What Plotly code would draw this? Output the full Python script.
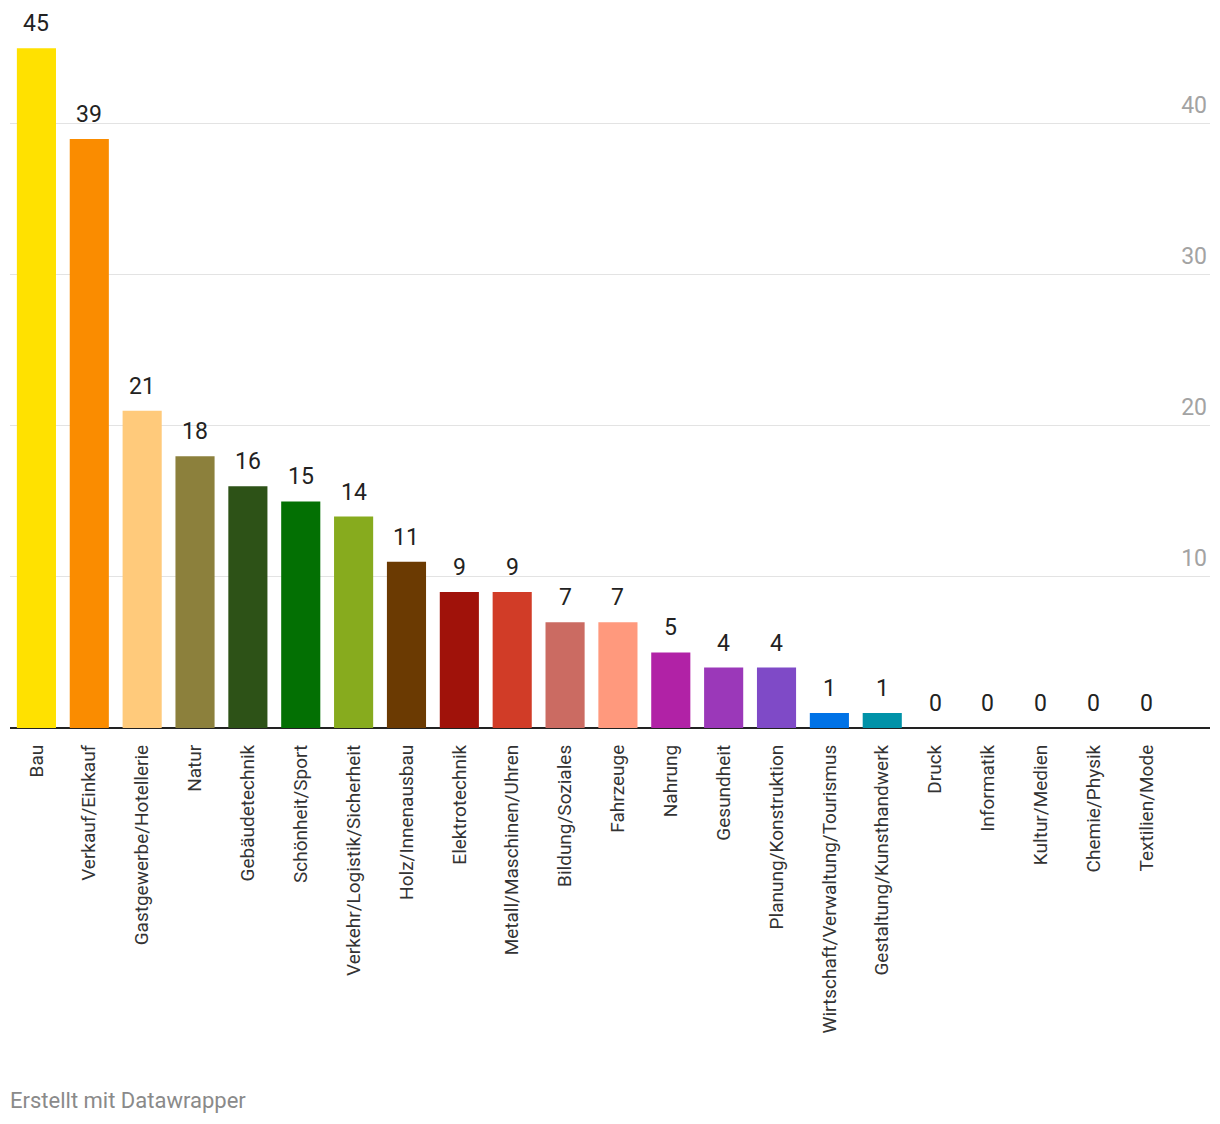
import plotly.graph_objects as go

categories = ["Bau", "Verkauf/Einkauf", "Gastgewerbe/Hotellerie", "Natur", "Gebäudetechnik",
              "Schönheit/Sport", "Verkehr/Logistik/Sicherheit", "Holz/Innenausbau", "Elektrotechnik",
              "Metall/Maschinen/Uhren", "Bildung/Soziales", "Fahrzeuge", "Nahrung", "Gesundheit",
              "Planung/Konstruktion", "Wirtschaft/Verwaltung/Tourismus", "Gestaltung/Kunsthandwerk",
              "Druck", "Informatik", "Kultur/Medien", "Chemie/Physik", "Textilien/Mode"]
values = [45, 39, 21, 18, 16, 15, 14, 11, 9, 9, 7, 7, 5, 4, 4, 1, 1, 0, 0, 0, 0, 0]
colors = ["#FFE100", "#FA8C00", "#FFCA7B", "#8C803C", "#2D5217", "#037003", "#87AB1E",
          "#6B3A02", "#A0120A", "#D13C27", "#CB6B62", "#FF997D", "#B122A6", "#9B38B9",
          "#7F4AC7", "#0072E6", "#0092A8", "#cccccc", "#cccccc", "#cccccc", "#cccccc", "#cccccc"]
y_ticks = [10, 20, 30, 40]

FONT = "Roboto"

fig = go.Figure()
fig.add_trace(go.Bar(
    x=categories, y=values, marker=dict(color=colors, line=dict(width=0)),
    hoverinfo="x+y",
))

annotations = []
for c, v in zip(categories, values):
    annotations.append(dict(
        x=c, y=v, xref="x", yref="y", text=str(v), showarrow=False,
        yanchor="bottom", xanchor="center", yshift=9,
        font=dict(family=FONT, size=23, color="#222222"),
    ))
annotations.append(dict(
    x=0, y=0, xref="paper", yref="paper", xanchor="left", yanchor="middle",
    xshift=-2, yshift=-372, text="Erstellt mit Datawrapper", showarrow=False,
    font=dict(family=FONT, size=22, color="#8a8a8a"),
))

fig.update_layout(
    width=1220, height=1124,
    margin=dict(l=10, r=10, t=3, b=396),
    paper_bgcolor="white", plot_bgcolor="white",
    bargap=0.26,
    showlegend=False,
    annotations=annotations,
    xaxis=dict(
        type="category", range=[-0.5, 22.2],
        tickangle=-90, tickfont=dict(family=FONT, size=19, color="#333333"),
        ticklabelstandoff=12,
        showgrid=False, ticks="", showline=False, zeroline=False,
    ),
    yaxis=dict(
        range=[0, 48], side="right", tickvals=y_ticks,
        ticklabelposition="inside top", ticklabelshift=-3,
        tickfont=dict(family=FONT, size=23, color="#a3a3a3"),
        showgrid=True, gridcolor="#e3e3e3", gridwidth=1,
        zeroline=True, zerolinecolor="#222222", zerolinewidth=2,
        ticks="", showline=False,
    ),
)

fig.write_html("out.html", config={"displayModeBar": False},
               post_script="document.body.style.margin='0';")
